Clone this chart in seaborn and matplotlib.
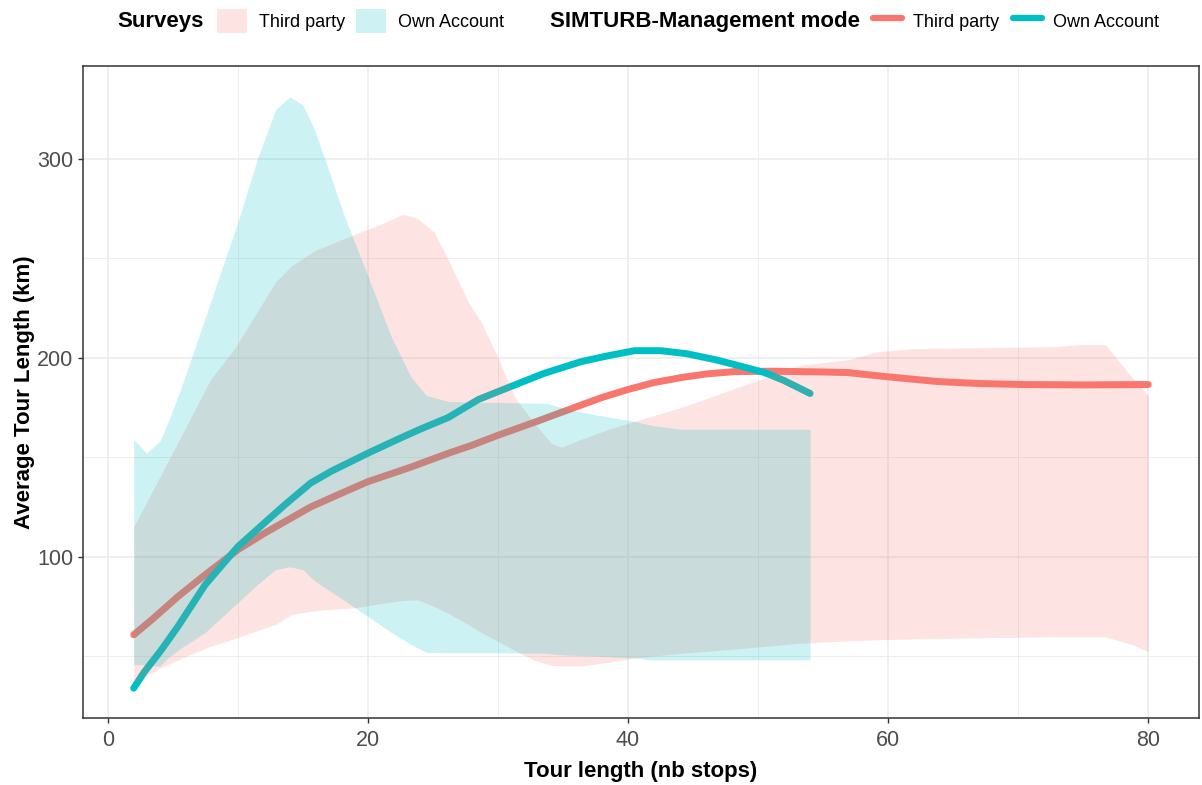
import matplotlib
matplotlib.use("Agg")
import matplotlib.pyplot as plt
from matplotlib.lines import Line2D
from matplotlib.patches import Patch
from matplotlib.ticker import MultipleLocator
import numpy as np
import pandas as pd
import seaborn as sns

RED = "#F8766D"
CYAN = "#00BFC4"

# Surveys ribbons
tp_x = [2, 4, 6, 7.9, 9.8, 12.9, 14.1, 16, 19, 21, 22.7, 23.8, 25.1, 26.2, 27.7,
        28.7, 30, 31.3, 32.8, 34.1, 34.9, 36.4, 38.5, 40.5, 44.1, 48, 53.1, 56.9,
        59.2, 62, 67, 72.8, 74.6, 76.7, 78.7, 80]
tp_hi = [115, 140, 165, 189, 205, 238, 246, 254, 262, 267, 272, 270, 263, 249, 228,
         218, 200, 180, 167, 157, 155, 159, 164, 168, 175, 184, 196, 199,
         203, 204.5, 205, 205.5, 206.5, 206.5, 190.5, 181]
tp_lo = [37, 44, 50, 55, 59, 66, 71, 73, 74.4, 76.5, 78, 78.4, 75, 71.5, 66,
         62, 57.5, 53, 48, 45.5, 45.2, 45.2, 47, 49.2, 51.5, 53.5, 56.5, 57.8,
         58.3, 58.8, 59.3, 59.8, 59.8, 59.8, 56, 52.3]

oa_x = [2, 3, 4, 4.6, 5.6, 7.5, 9, 10, 11.5, 12.9, 14, 15, 15.9, 16.7, 18.2, 20,
        21.8, 23.3, 24.5, 26.2, 28.5, 30, 33.8, 34.8, 36.9, 40.5, 41.8, 44.1, 48, 54]
oa_hi = [159, 152, 158, 167, 184, 220, 249, 268, 299.5, 324.6, 331, 327, 314.6, 299.5,
         271, 241, 210.5, 190.5, 181, 178, 177.5, 177.5, 177, 175, 172, 168, 166,
         164, 164, 164]
oa_lo = [46, 45.5, 45, 49, 54, 62, 71, 77, 86, 93.5, 95, 93.5, 88, 84.4, 78, 70,
         62, 56, 52, 51.8, 51.8, 51.8, 51.5, 50.8, 50.2, 49.2, 48.2, 48.2, 48.2, 48.2]

# SIMTURB lines
sim_tp_x = [2, 3.5, 5.4, 7.5, 10, 12.1, 15.6, 18, 20, 23.3, 26.2, 28, 30, 33, 35.9,
            38, 40, 42, 44.1, 46, 48.2, 51, 53, 55, 56.9, 59.8, 63.8, 67, 70.5, 75, 80]
sim_tp_y = [60.8, 69, 80, 91, 103.5, 112, 125, 132, 137.7, 145, 152, 156, 161, 168, 175,
            180, 184, 187.5, 190, 191.8, 193, 193.2, 193, 192.8, 192.5, 190.5, 188, 187,
            186.5, 186.3, 186.5]
sim_oa_x = [2, 2.8, 4.1, 5.4, 7.5, 10, 12.05, 13.6, 15.6, 17.2, 20, 22.3, 24, 26.2,
            28.5, 30.8, 33.5, 36.4, 38.5, 40.5, 42.5, 44.5, 46.7, 48.5, 50.5, 52, 54]
sim_oa_y = [34, 42, 53, 65, 86, 105, 117, 126, 137, 143, 152, 159, 164, 170,
            179, 185, 192, 198, 201, 203.5, 203.5, 202, 199, 196, 192.5, 188.5, 182]

lines = pd.concat([
    pd.DataFrame({"stops": sim_tp_x, "km": sim_tp_y, "mode": "Third party"}),
    pd.DataFrame({"stops": sim_oa_x, "km": sim_oa_y, "mode": "Own Account"}),
])

sns.set_style("white")
plt.rcParams["font.family"] = ["Liberation Sans", "DejaVu Sans"]
plt.rcParams["text.color"] = "black"

fig = plt.figure(figsize=(12.02, 7.85), dpi=100)
ax = fig.add_axes([83 / 1202, 1 - 718 / 785, (1199 - 83) / 1202, (718 - 66) / 785])

sns.lineplot(data=lines, x="stops", y="km", hue="mode", sort=False,
             palette={"Third party": RED, "Own Account": CYAN},
             linewidth=5, legend=False, ax=ax, zorder=2)
ax.fill_between(tp_x, tp_lo, tp_hi, color=RED, alpha=0.2, lw=0, zorder=3)
ax.fill_between(oa_x, oa_lo, oa_hi, color=CYAN, alpha=0.2, lw=0, zorder=3)

ax.set_xlim(-1.9, 83.9)
ax.set_ylim(19, 346.5)
ax.xaxis.set_major_locator(MultipleLocator(20))
ax.xaxis.set_minor_locator(MultipleLocator(10))
ax.yaxis.set_major_locator(MultipleLocator(100))
ax.yaxis.set_minor_locator(MultipleLocator(50))
ax.grid(which="major", color="#EBEBEB", lw=1.1, zorder=0)
ax.grid(which="minor", color="#EBEBEB", lw=0.6, zorder=0)
ax.set_axisbelow(True)
for s in ax.spines.values():
    s.set_color("#333333")
    s.set_linewidth(1.1)
ax.tick_params(which="major", bottom=True, left=True, length=3.6, width=1.0,
               color="#333333", labelcolor="#4D4D4D", labelsize=15.5, pad=3.5)
ax.tick_params(which="minor", bottom=False, left=False, length=0)
ax.tick_params(axis="x", pad=5)

ax.set_xlabel("Tour length (nb stops)", fontsize=16, fontweight="bold",
              labelpad=7, color="black")
ax.set_ylabel("Average Tour Length (km)", fontsize=16, fontweight="bold",
              labelpad=1.5, color="black")

# legends on top
ytop = 1 - 21 / 785
fig.text(117 / 1202, ytop, "Surveys", fontsize=16, fontweight="bold", va="center")
fig.text(550 / 1202, ytop, "SIMTURB-Management mode", fontsize=16,
         fontweight="bold", va="center")

fill_handles = [Patch(facecolor=RED, alpha=0.2, lw=0), Patch(facecolor=CYAN, alpha=0.2, lw=0)]
fig.legend(fill_handles, ["Third party", "Own Account"], ncol=2,
           loc="center left", bbox_to_anchor=(217 / 1202, ytop), frameon=False,
           fontsize=13, borderpad=0, borderaxespad=0, handlelength=1.66,
           handleheight=1.6, handletextpad=0.66, columnspacing=0.6,
           labelcolor="black")
line_handles = [Line2D([], [], color=RED, lw=4.5), Line2D([], [], color=CYAN, lw=4.5)]
fig.legend(line_handles, ["Third party", "Own Account"], ncol=2,
           loc="center left", bbox_to_anchor=(873 / 1202, ytop), frameon=False,
           fontsize=13, borderpad=0, borderaxespad=0, handlelength=1.6,
           handleheight=1.6, handletextpad=0.62, columnspacing=0.75,
           labelcolor="black")

fig.savefig("out.png", dpi=100)
